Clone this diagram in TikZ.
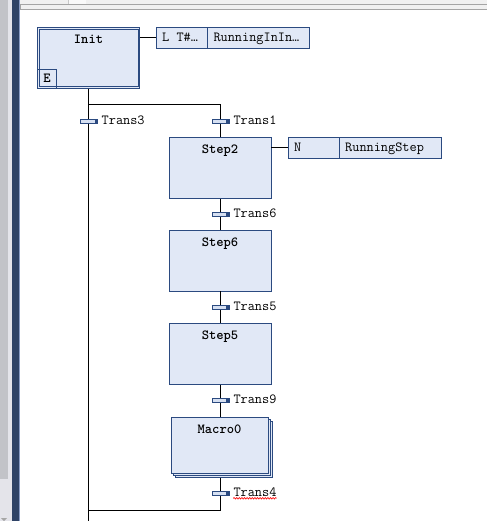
\documentclass[tikz,border=0pt]{standalone}
\usepackage{fontspec}
\usetikzlibrary{decorations.pathmorphing}
\definecolor{sfcfill}{HTML}{E1E8F6}
\definecolor{sfcline}{HTML}{2B4A80}
\definecolor{trfill}{HTML}{D6E0F2}
\definecolor{chromegray}{HTML}{C2C3C8}
\definecolor{chromelight}{HTML}{E4E4EA}
\definecolor{chromenavy}{HTML}{2F4366}
\definecolor{chromeedge}{HTML}{8A9CC4}
\definecolor{topband}{HTML}{F0F0F0}
\definecolor{topline}{HTML}{A4A4A4}
\begin{document}
\begin{tikzpicture}[x=1pt,y=-1pt,
  wire/.style={draw=black,line width=0.9pt},
  stepbox/.style={draw=sfcline,fill=sfcfill,line width=0.9pt,minimum width=102pt,minimum height=61pt,inner sep=0pt},
  macbox/.style={draw=sfcline,fill=sfcfill,line width=0.9pt,minimum width=97.4pt,minimum height=56pt,inner sep=0pt},
  actbox/.style={draw=sfcline,fill=sfcfill,line width=0.9pt,minimum height=21pt,inner sep=0pt},
  trmark/.style={draw=sfcline,fill=trfill,line width=0.9pt,minimum width=17.5pt,minimum height=4.6pt,inner sep=0pt,
    path picture={\fill[sfcline] ([xshift=-3pt]path picture bounding box.north east) rectangle (path picture bounding box.south east);}},
  sname/.style={font=\ttfamily\bfseries\fontsize{13.9}{14}\selectfont,inner sep=0pt,anchor=base},
  tname/.style={font=\ttfamily\fontsize{13.9}{14}\selectfont,inner sep=0pt,anchor=base west},
]
\useasboundingbox (0,0) rectangle (487,521);
% window chrome
\fill[chromegray] (0,0) rectangle (8,479);
\fill[chromelight] (8,0) rectangle (12,521);
\fill[chromelight] (0,479) rectangle (8,521);
\fill[gray!70] (1,518) -- (7,518) -- (4,521) -- cycle;
\fill[chromenavy] (12,0) rectangle (19,521);
\fill[chromeedge] (19,0) rectangle (20,521);
\fill[topband] (20,0) rectangle (487,9);
\fill[white!60!topband] (69,0) rectangle (86,4);
\fill[topline!60] (67.5,0) rectangle (68.5,4);
\fill[topline] (20,4) rectangle (487,5);
\fill[topline] (20,9) rectangle (487,10);
\fill[topline] (20,5) rectangle (21,9);

% steps
\node[stepbox,minimum width=102.5pt] (Init) at (88.5,58) {};
\draw[sfcline,line width=0.9pt] ([xshift=2.2pt,yshift=-2.2pt]Init.north west) rectangle ([xshift=-2.2pt,yshift=2.2pt]Init.south east);
\node[draw=sfcline,line width=0.9pt,anchor=south west,minimum width=19.5pt,minimum height=19.5pt,inner sep=0pt,
  font=\ttfamily\bfseries\fontsize{13.9}{14}\selectfont] (InitE) at (Init.south west) {E};
\node[sname] (InitT) at (88.5,44) {Init};

\node[stepbox] (Step2) at (220,168) {};
\node[sname] (Step2T) at (220,153.5) {Step2};
\node[stepbox] (Step6) at (220,260.5) {};
\node[sname] (Step6T) at (220,246) {Step6};
\node[stepbox] (Step5) at (220,353.8) {};
\node[sname] (Step5T) at (220,339.3) {Step5};

\node[macbox] (MacS2) at (224,449.3) {};
\node[macbox] (MacS1) at (222,447.3) {};
\node[macbox] (Macro0) at (220,445.3) {};
\node[sname] (Macro0T) at (219.5,433.3) {Macro0};

% action blocks
\node[actbox,minimum width=51pt] (A1q) at (182,37.8) {};
\node[actbox,minimum width=102pt] (A1n) at (258.5,37.8) {};
\node[tname] (A1qT) at (162,42) {L T\#…};
\node[tname] (A1nT) at (213.3,42) {RunningInIn…};
\node[actbox,minimum width=51pt] (A2q) at (313.8,147.8) {};
\node[actbox,minimum width=102.4pt] (A2n) at (390.5,147.8) {};
\node[tname] (A2qT) at (294,152) {N};
\node[tname] (A2nT) at (345,152) {RunningStep};

% connectors
\coordinate (jl) at (88.5,104.5);
\coordinate (jr) at (220,104.5);
\coordinate (bl) at (88.5,521);
\coordinate (jb) at (220,510);
\coordinate (jbl) at (88.5,510);
\draw[wire] (Init.south) -- (jl) -- (jr) -- (Step2.north);
\draw[wire] (jl) -- (bl);
\draw[wire] (Step2.south) -- (Step6.north);
\draw[wire] (Step6.south) -- (Step5.north);
\draw[wire] (Step5.south) -- (Macro0.north);
\draw[wire] ([yshift=-4pt]Macro0.south) -- (jb) -- (jbl);
\draw[wire] (Init.east |- A1q.west) -- (A1q.west);
\draw[wire] (Step2.east |- A2q.west) -- (A2q.west);

% transitions
\node[trmark] (T3) at (88.9,121.5) {};
\node[tname] (T3T) at ([xshift=3.4pt]T3.east |- 0,124.5) {Trans3};
\node[trmark] (T1) at (220.7,121.5) {};
\node[tname] (T1T) at ([xshift=3.4pt]T1.east |- 0,124.5) {Trans1};
\node[trmark] (T6) at (220.7,214.3) {};
\node[tname] (T6T) at ([xshift=3.4pt]T6.east |- 0,217.3) {Trans6};
\node[trmark] (T5) at (220.7,307.3) {};
\node[tname] (T5T) at ([xshift=3.4pt]T5.east |- 0,310.3) {Trans5};
\node[trmark] (T9) at (220.7,400.3) {};
\node[tname] (T9T) at ([xshift=3.4pt]T9.east |- 0,403.3) {Trans9};
\node[trmark] (T4) at (220.7,493.3) {};
\node[tname] (T4T) at ([xshift=3.4pt]T4.east |- 0,496.3) {Trans4};
\draw[red,line width=0.6pt,decorate,decoration={snake,amplitude=0.8pt,segment length=2.6pt}]
  ([yshift=-2pt]T4T.base west) -- ([yshift=-2pt]T4T.base east);
\end{tikzpicture}
\end{document}
